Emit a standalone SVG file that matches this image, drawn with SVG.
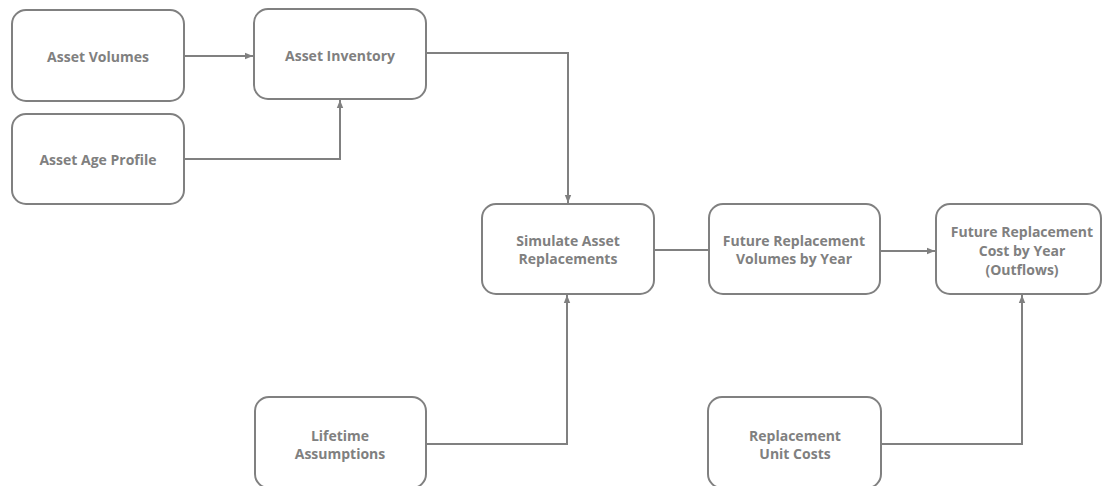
<svg xmlns="http://www.w3.org/2000/svg" width="1102" height="486" viewBox="0 0 1102 486">
<defs>
<marker id="ah" viewBox="0 0 10 10" refX="10" refY="5" markerWidth="8" markerHeight="8" markerUnits="userSpaceOnUse" orient="auto">
<path d="M0,1 L10,5 L0,9 Z" fill="#808080"/>
</marker>
<style>
.box{fill:#fff;stroke:#808080;stroke-width:2}
.t{font-family:"Open Sans","Noto Sans",sans-serif;font-weight:bold;font-size:14px;fill:#808080;text-anchor:middle}
.c{fill:none;stroke:#808080;stroke-width:2}
</style>
</defs>
<rect width="1102" height="486" fill="#fff"/>
<g id="connectors">
<path class="c" d="M184,56 H253" marker-end="url(#ah)"/>
<path class="c" d="M184,159 H340 V100" marker-end="url(#ah)"/>
<path class="c" d="M426,53 H568 V203" marker-end="url(#ah)"/>
<path class="c" d="M426,444 H567 V295" marker-end="url(#ah)"/>
<path class="c" d="M654,250 H709"/>
<path class="c" d="M880,251 H935" marker-end="url(#ah)"/>
<path class="c" d="M881,444 H1022 V295" marker-end="url(#ah)"/>
</g>
<g id="asset-volumes"><rect class="box" x="12" y="10" width="172" height="91" rx="14"/><text class="t" x="98" y="62">Asset Volumes</text></g>
<g id="asset-inventory"><rect class="box" x="254" y="9" width="172" height="90" rx="14"/><text class="t" x="340" y="61">Asset Inventory</text></g>
<g id="asset-age-profile"><rect class="box" x="12" y="114" width="172" height="90" rx="14"/><text class="t" x="98" y="165">Asset Age Profile</text></g>
<g id="simulate"><rect class="box" x="482" y="204" width="172" height="90" rx="14"/><text class="t" x="568" y="246">Simulate Asset</text><text class="t" x="568" y="264">Replacements</text></g>
<g id="future-volumes"><rect class="box" x="709" y="204" width="171" height="90" rx="14"/><text class="t" x="794" y="246">Future Replacement</text><text class="t" x="794" y="264">Volumes by Year</text></g>
<g id="future-cost"><rect class="box" x="936" y="204" width="165" height="90" rx="14"/><text class="t" x="1022" y="237">Future Replacement</text><text class="t" x="1022" y="256">Cost by Year</text><text class="t" x="1022" y="275">(Outflows)</text></g>
<g id="lifetime"><rect class="box" x="255" y="397" width="171" height="91" rx="14"/><text class="t" x="340" y="441">Lifetime</text><text class="t" x="340" y="459">Assumptions</text></g>
<g id="unit-costs"><rect class="box" x="708" y="397" width="173" height="91" rx="14"/><text class="t" x="795" y="441">Replacement</text><text class="t" x="795" y="459">Unit Costs</text></g>
</svg>
